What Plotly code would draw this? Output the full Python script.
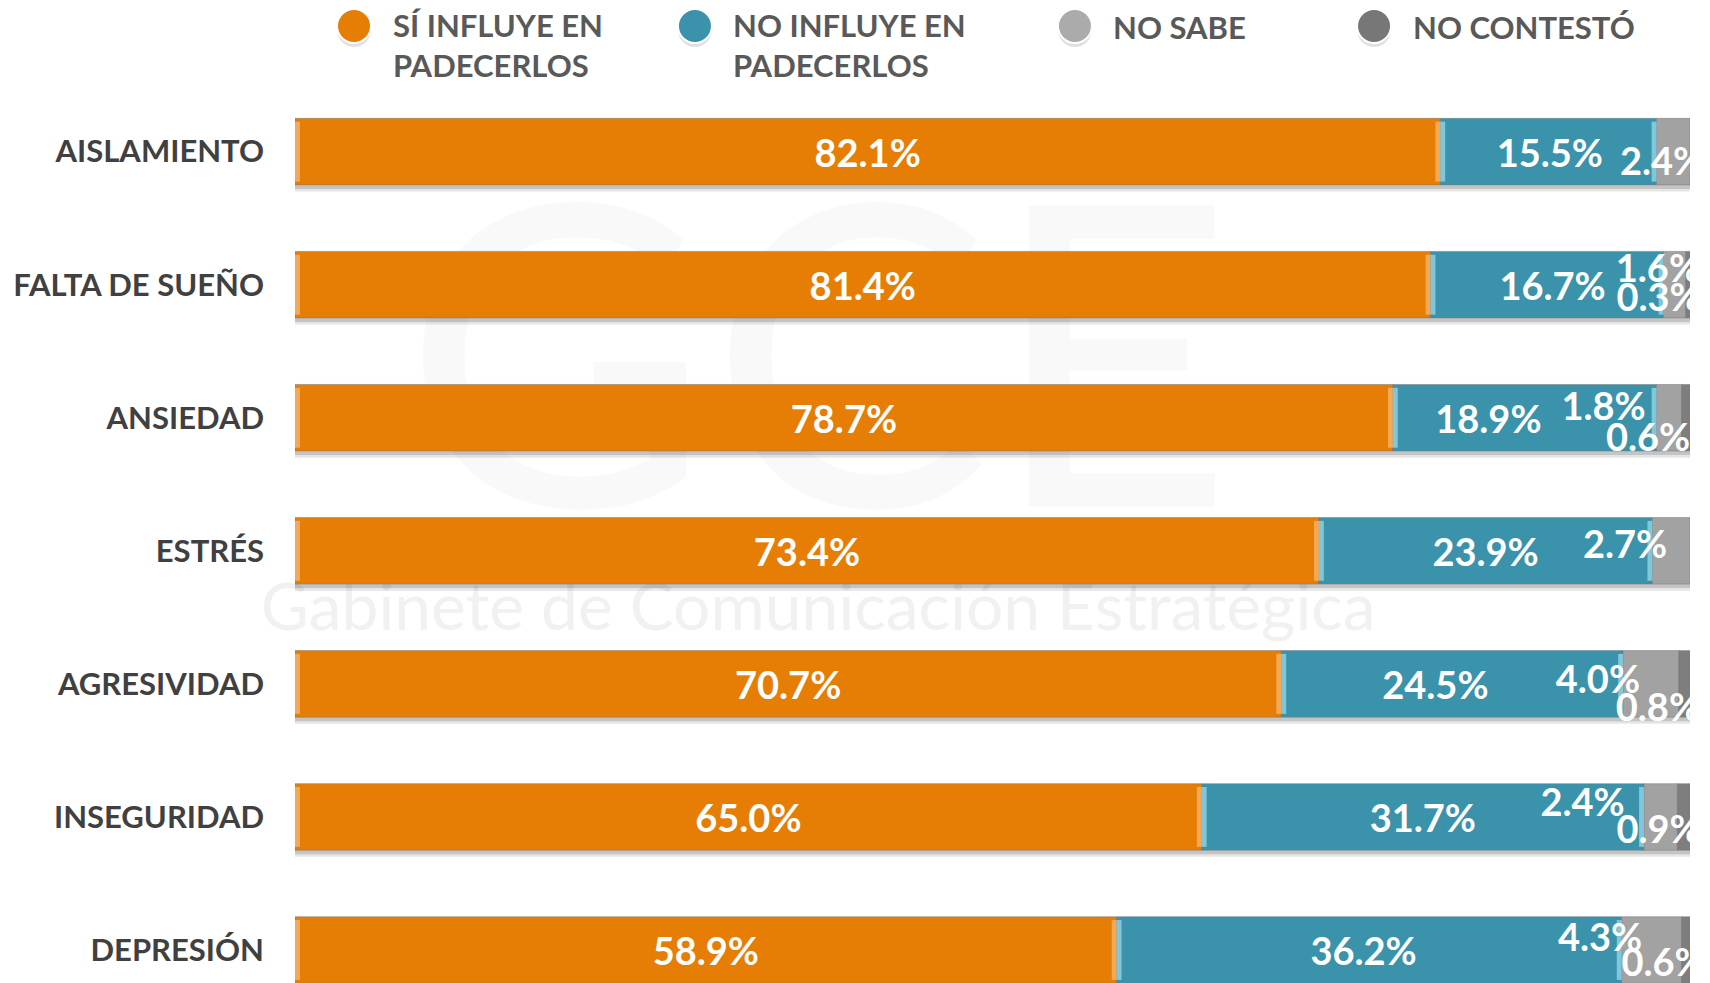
import plotly.graph_objects as go

# Datos (porcentajes por fila, suman 100)
categorias = ["AISLAMIENTO", "FALTA DE SUEÑO", "ANSIEDAD", "ESTRÉS",
              "AGRESIVIDAD", "INSEGURIDAD", "DEPRESIÓN"]
si_influye = [82.1, 81.4, 78.7, 73.4, 70.7, 65.0, 58.9]
no_influye = [15.5, 16.7, 18.9, 23.9, 24.5, 31.7, 36.2]
no_sabe = [2.4, 1.6, 1.8, 2.7, 4.0, 2.4, 4.3]
no_contesto = [None, 0.3, 0.6, None, 0.8, 0.9, 0.6]

series_nombres = ["SÍ INFLUYE EN<br>PADECERLOS", "NO INFLUYE EN<br>PADECERLOS",
                  "NO SABE", "NO CONTESTÓ"]

# Colores
NARANJA = "#E67E06"
TEAL = "#3A93AB"
GRIS_CLARO = "#A2A2A2"
GRIS_OSCURO = "#7E7E7E"
TEXTO = "#404040"
FUENTE = "Lato"
TAM_VALOR = 38

# desplazamiento de las etiquetas (unidades de datos, respecto al centro del segmento)
ni_dx = [0.1, 0.4, -2.6, 0.0, -1.2, 0.0, -0.4]
ns_dx = [-0.8, -1.2, -4.7, -3.3, -3.8, -5.6, -3.7]
ns_dy = [0.06, -0.14, -0.10, -0.06, -0.05, -0.12, -0.11]
nc_dx = [0, -2.1, -2.7, 0, -1.9, -1.8, -1.6]
nc_dy = [0, 0.08, 0.13, 0, 0.16, 0.08, 0.08]
AJUSTE_Y = 0.045  # el texto de scatter queda un poco más alto que el de las barras

pos = list(range(len(categorias)))
ANCHO = 0.5

fig = go.Figure()

totales = [sum(v or 0 for v in fila) for fila in zip(si_influye, no_influye, no_sabe, no_contesto)]

# sombra bajo las barras
for dy, alpha in [(0.05, 0.10), (0.03, 0.14)]:
    fig.add_trace(go.Bar(
        y=pos, x=totales, base=[0] * len(pos), orientation="h",
        width=ANCHO, offset=-ANCHO / 2 + dy,
        marker=dict(color=f"rgba(0,0,0,{alpha})", line=dict(width=0)),
        showlegend=False, hoverinfo="skip",
    ))

base = [0.0] * len(pos)
bases = []
for nombre, valores, color in [
    (series_nombres[0], si_influye, NARANJA),
    (series_nombres[1], no_influye, TEAL),
    (series_nombres[2], no_sabe, GRIS_CLARO),
    (series_nombres[3], no_contesto, GRIS_OSCURO),
]:
    con_texto = color == NARANJA
    fig.add_trace(go.Bar(
        y=pos, x=valores, base=list(base), orientation="h",
        width=ANCHO, offset=-ANCHO / 2,
        name=nombre.replace("<br>", " "),
        marker=dict(color=color, line=dict(color="rgba(120,120,120,0.5)", width=1)),
        text=[f"{v:.1f}%" for v in valores] if con_texto else None,
        textposition="inside" if con_texto else "none",
        insidetextanchor="middle",
        constraintext="none",
        textfont=dict(family=FUENTE, size=TAM_VALOR, color="white", weight="bold"),
        showlegend=False,
        hovertemplate="%{y}: %{x:.1f}%<extra></extra>",
    ))
    bases.append(list(base))
    base = [b + (v or 0) for b, v in zip(base, valores)]

# biseles claros en los bordes de los segmentos naranja y teal
for valores, b0, claro in [(si_influye, bases[0], "#F7B46A"), (no_influye, bases[1], "#93D4E6")]:
    for lado in (0, 1):
        fig.add_trace(go.Bar(
            y=pos, x=[0.35] * len(pos),
            base=[b + (v - 0.35) * lado for b, v in zip(b0, valores)],
            orientation="h", width=ANCHO * 0.9, offset=-ANCHO * 0.45,
            marker=dict(color=claro, opacity=0.8, line=dict(width=0)),
            showlegend=False, hoverinfo="skip",
        ))

# etiquetas de NO INFLUYE / NO SABE / NO CONTESTÓ (recortadas por el área del gráfico)
lab_x, lab_y, lab_t = [], [], []
for i in pos:
    lab_x.append(bases[1][i] + no_influye[i] / 2 + ni_dx[i])
    lab_y.append(i + AJUSTE_Y)
    lab_t.append(f"{no_influye[i]:.1f}%")
    if no_sabe[i]:
        lab_x.append(bases[2][i] + no_sabe[i] / 2 + ns_dx[i])
        lab_y.append(i + ns_dy[i] + AJUSTE_Y)
        lab_t.append(f"{no_sabe[i]:.1f}%")
    if no_contesto[i]:
        lab_x.append(bases[3][i] + no_contesto[i] / 2 + nc_dx[i])
        lab_y.append(i + nc_dy[i] + AJUSTE_Y)
        lab_t.append(f"{no_contesto[i]:.1f}%")
fig.add_trace(go.Scatter(
    x=lab_x, y=lab_y, text=lab_t, mode="text", textposition="middle center",
    textfont=dict(family=FUENTE, size=TAM_VALOR, color="white", weight="bold"),
    cliponaxis=True, showlegend=False, hoverinfo="skip",
))

# leyenda manual con círculos grandes
ley_colores = [NARANJA, TEAL, "#ABABAB", "#777777"]
ley_x = [0.0423, 0.2867, 0.5591, 0.7735]
ley_tx = [0.0690, 0.3128, 0.5852, 0.8000]
for nombre, color, xm, xt in zip(series_nombres, ley_colores, ley_x, ley_tx):
    fig.add_shape(type="circle", xref="paper", yref="paper",
                  xsizemode="pixel", ysizemode="pixel", xanchor=xm, yanchor=1.0838,
                  x0=-17, x1=17, y0=-21, y1=13,
                  fillcolor="rgba(0,0,0,0.12)", line=dict(width=0))
    fig.add_shape(type="circle", xref="paper", yref="paper",
                  xsizemode="pixel", ysizemode="pixel", xanchor=xm, yanchor=1.0838,
                  x0=-17, x1=17, y0=-17, y1=17,
                  fillcolor=color, line=dict(color="white", width=2))
    dos = "<br>" in nombre
    fig.add_annotation(
        text=nombre, xref="paper", yref="paper", x=xt, y=1.062 if dos else 1.0827,
        xanchor="left", yanchor="middle", align="left", showarrow=False,
        font=dict(family=FUENTE, size=31, color="#595959", weight="bold"),
    )

# marca de agua tenue detrás de las barras
fig.add_shape(type="rect", xref="paper", yref="paper", x0=0.25, x1=0.5, y0=0.40, y1=0.46,
              layer="below", line=dict(width=0), fillcolor="rgba(0,0,0,0)",
              label=dict(text="Gabinete de Comunicación Estratégica", textposition="middle center",
                         font=dict(family=FUENTE, size=66, color="#F1F1F1")))
fig.add_shape(type="rect", xref="paper", yref="paper", x0=0.3, x1=0.45, y0=0.70, y1=0.76,
              layer="below", line=dict(width=0), fillcolor="rgba(0,0,0,0)",
              label=dict(text="GCE", textposition="middle center",
                         font=dict(family=FUENTE, size=420, color="#F9F9F9")))

fig.update_layout(
    width=1710, height=983,
    barmode="overlay",
    paper_bgcolor="white", plot_bgcolor="rgba(0,0,0,0)",
    margin=dict(l=295, r=20, t=100, b=0),
    font=dict(family=FUENTE, color=TEXTO),
    xaxis=dict(range=[0, 100], visible=False, fixedrange=True),
    yaxis=dict(
        range=[6.248, -0.388], tickvals=pos, ticktext=categorias,
        showgrid=False, zeroline=False, showline=False, ticks="",
        ticklabelstandoff=30,
        tickfont=dict(family=FUENTE, size=31, color=TEXTO, weight="bold"),
        fixedrange=True,
    ),
    showlegend=False,
)

# sin margen del body para que la figura ocupe la ventana desde (0, 0)
fig.write_html("out.html", config={"displayModeBar": False},
               post_script="document.body.style.margin='0';")
